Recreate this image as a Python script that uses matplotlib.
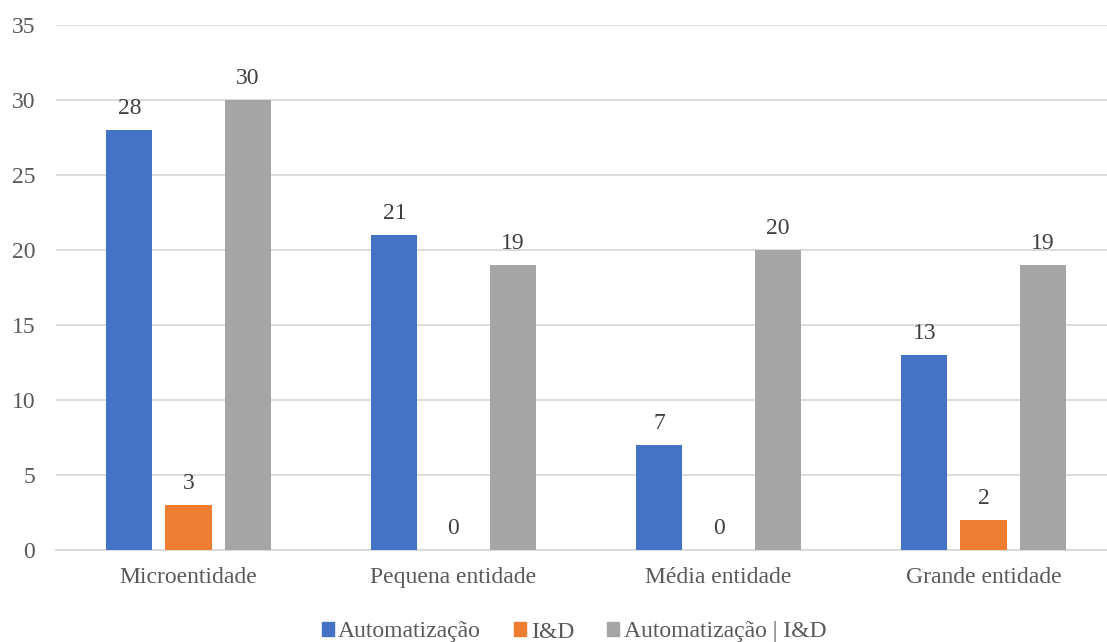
import numpy as np
import matplotlib.pyplot as plt
from matplotlib.patches import Patch

plt.rcParams['font.family'] = ['Liberation Serif', 'DejaVu Serif']

categorias = ['Microentidade', 'Pequena entidade', 'Média entidade', 'Grande entidade']
series = ['Automatização', 'I&D', 'Automatização | I&D']
automatizacao = [28, 21, 7, 13]
id_ = [3, 0, 0, 2]
ambos = [30, 19, 20, 19]
cores = ['#4472C4', '#ED7D31', '#A5A5A5']

fig = plt.figure(figsize=(11.07, 6.42), dpi=100)
ax = fig.add_axes([56 / 1107, 92 / 642, 1060 / 1107, 525 / 642])

x = np.arange(len(categorias))
largura = 0.174
passo = 0.223
for i, (vals, cor) in enumerate(zip([automatizacao, id_, ambos], cores)):
    pos = x + (i - 1) * passo
    ax.bar(pos, vals, width=largura, color=cor, zorder=3)
    for p, v in zip(pos, vals):
        ax.annotate(str(v), (p, v), xytext=(0, 8), textcoords='offset points',
                    ha='center', va='bottom', fontsize=17, color='#404040')

ax.set_xlim(-0.5, len(categorias) - 0.5)
ax.set_ylim(0, 35)
ax.set_yticks(range(0, 36, 5))
ax.set_xticks(x)
ax.set_xticklabels(categorias)
ax.yaxis.grid(True, color='#D9D9D9', linewidth=1.3, zorder=0)
ax.tick_params(axis='both', length=0, labelsize=17, labelcolor='#595959')
ax.tick_params(axis='x', pad=12)
ax.tick_params(axis='y', pad=15)
for s in ['top', 'right', 'left']:
    ax.spines[s].set_visible(False)
ax.spines['bottom'].set_color('#D9D9D9')
ax.spines['bottom'].set_linewidth(1.3)

handles = [Patch(color=c, label=s) for c, s in zip(cores, series)]
fig.legend(handles=handles, loc='center', bbox_to_anchor=(574 / 1107, 10 / 642),
           ncol=3, frameon=False, fontsize=17, labelcolor='#595959',
           handlelength=0.5, handleheight=0.5, handletextpad=0.2, columnspacing=1.4)

fig.savefig('out.png', dpi=100)
